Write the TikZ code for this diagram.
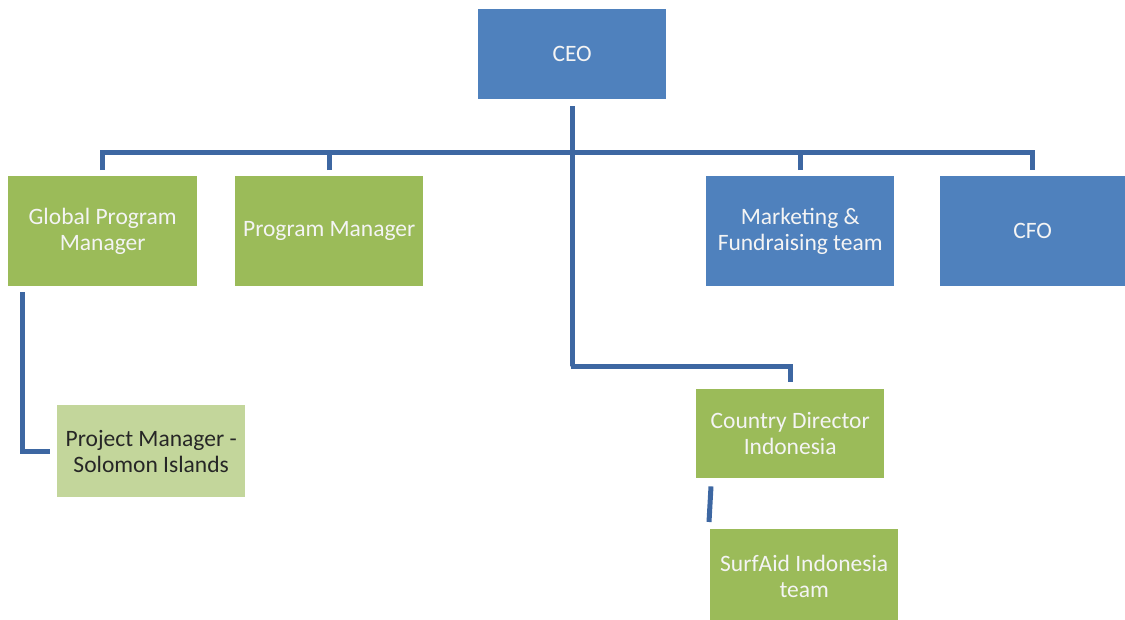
\documentclass[tikz,border=0pt]{standalone}
\usepackage{fontspec}
\setmainfont{Carlito}
\definecolor{boxblue}{HTML}{4F81BD}
\definecolor{boxgreen}{HTML}{9BBB59}
\definecolor{boxlight}{HTML}{C3D69B}
\definecolor{linkblue}{HTML}{3D67A2}
\definecolor{lighttext}{HTML}{F4F4F4}
\begin{document}
\begin{tikzpicture}[x=1pt,y=-1pt,
  orgbox/.style={anchor=north west,inner sep=0pt,align=center,
    font=\fontsize{23.5}{26}\selectfont,text=lighttext},
  bluebox/.style={orgbox,fill=boxblue},
  greenbox/.style={orgbox,fill=boxgreen},
  lightbox/.style={orgbox,fill=boxlight,text=black!85},
  conn/.style={draw=linkblue,line width=5pt,line join=miter}]
\useasboundingbox (0,0) rectangle (1125,619);

% boxes
\node[bluebox,minimum width=188pt,minimum height=90pt] (ceo) at (478,9) {CEO};
\node[greenbox,minimum width=189pt,minimum height=110pt] (gpm) at (8,176) {Global Program\\Manager};
\node[greenbox,minimum width=188pt,minimum height=110pt] (pm) at (235,176) {Program Manager};
\node[bluebox,minimum width=188pt,minimum height=110pt] (mkt) at (706,176) {Marketing \&\\Fundraising team};
\node[bluebox,minimum width=185pt,minimum height=110pt] (cfo) at (940,176) {CFO};
\node[lightbox,minimum width=188pt,minimum height=92pt] (pjm) at (57,405) {Project Manager -\\Solomon Islands};
\node[greenbox,minimum width=188pt,minimum height=89pt] (cd) at (696,389) {Country Director\\Indonesia};
\node[greenbox,minimum width=188pt,minimum height=95pt] (sa) at (710,529) {SurfAid Indonesia\\team};

% horizontal bar with drops to the second row
\draw[conn] ([yshift=6pt]gpm.north) |- ([yshift=24pt]cfo.north) -- ([yshift=6pt]cfo.north);
\draw[conn] ([yshift=6pt]pm.north) -- ([yshift=24pt]pm.north);
\draw[conn] ([yshift=6pt]mkt.north) -- ([yshift=24pt]mkt.north);

% CEO trunk down to the country director
\draw[conn] ([yshift=-7pt]ceo.south) |- ([xshift=-219pt,yshift=23pt]cd.north) -| ([yshift=7pt]cd.north);

% lower links
\draw[conn] ([shift={(14pt,-6pt)}]gpm.south west) |- ([xshift=-7pt]pjm.west);
\draw[conn] ([shift={(15pt,-8pt)}]cd.south west) -- ([shift={(-1pt,7pt)}]sa.north west);
\end{tikzpicture}
\end{document}
